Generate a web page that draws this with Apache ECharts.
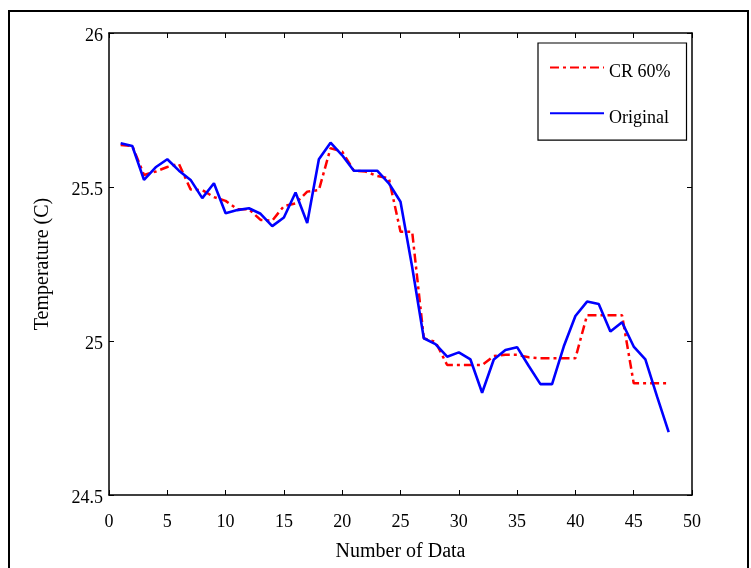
<!DOCTYPE html>
<html>
<head>
<meta charset="utf-8">
<script src="https://cdn.jsdelivr.net/npm/echarts@6/dist/echarts.min.js"></script>
<style>
  html, body { margin: 0; padding: 0; background: #fff; }
  #chart { width: 751px; height: 568px; }
</style>
</head>
<body>
<div id="chart"></div>
<script>
// Sample index along the horizontal axis
const sampleNo = [1,2,3,4,5,6,7,8,9,10,11,12,13,14,15,16,17,18,19,20,21,22,23,24,
                  25,26,27,28,29,30,31,32,33,34,35,36,37,38,39,40,41,42,43,44,45,46,47,48];

// Reconstructed signal at 60% compression ratio
const cr60 = [25.636, 25.633, 25.539, 25.55, 25.565, 25.575, 25.492, 25.49, 25.467, 25.455,
              25.428, 25.428, 25.393, 25.391, 25.438, 25.447, 25.485, 25.49, 25.626, 25.615,
              25.553, 25.55, 25.536, 25.528, 25.355, 25.355, 25.009, 24.997, 24.922, 24.922,
              24.922, 24.922, 24.951, 24.955, 24.955, 24.947, 24.944, 24.944, 24.944, 24.944,
              25.084, 25.084, 25.084, 25.084, 24.863, 24.863, 24.863, 24.863];

// Original temperature readings
const original = [25.642, 25.633, 25.523, 25.564, 25.59, 25.553, 25.523, 25.464, 25.512, 25.415,
                  25.425, 25.431, 25.413, 25.373, 25.401, 25.482, 25.383, 25.59, 25.644, 25.603,
                  25.553, 25.553, 25.553, 25.512, 25.452, 25.24, 25.009, 24.99, 24.949, 24.963,
                  24.94, 24.832, 24.94, 24.971, 24.98, 24.919, 24.86, 24.86, 24.982, 25.081,
                  25.128, 25.12, 25.031, 25.061, 24.982, 24.94, 24.82, 24.704];

const seriesNames = ['CR 60%', 'Original'];
const xTicks = { min: 0, max: 50, step: 5 };
const yTicks = { min: 24.5, max: 26, step: 0.5 };

const font = 'Liberation Serif, Times New Roman, serif';
const pair = (xs, ys) => xs.map((x, i) => [x, ys[i]]);

const chart = echarts.init(document.getElementById('chart'), null, { renderer: 'canvas' });

const axisLine = { show: true, onZero: false, lineStyle: { color: '#000', width: 1.5 } };
const tick = { show: true, inside: true, length: 5, lineStyle: { color: '#000', width: 1 } };

chart.setOption({
  animation: false,
  backgroundColor: '#fff',
  textStyle: { fontFamily: font },
  graphic: [{
    type: 'rect',
    shape: { x: 9, y: 11, width: 739, height: 600 },
    style: { fill: 'none', stroke: '#000', lineWidth: 2 },
    silent: true
  }],
  grid: { left: 109, right: 59, top: 33, bottom: 73, containLabel: false },
  legend: {
    orient: 'vertical',
    left: 538, top: 43,
    padding: [19, 16, 13, 11],
    itemWidth: 54, itemHeight: 14, itemGap: 26,
    backgroundColor: '#fff',
    borderColor: '#000', borderWidth: 1.2,
    // plain line samples, no point markers
    itemStyle: { opacity: 0 },
    // labels sit a little below their line sample
    formatter: '{t|{name}}',
    textStyle: {
      fontFamily: font, fontSize: 18, color: '#000',
      rich: { t: { fontFamily: font, fontSize: 18, color: '#000', padding: [10, 0, 0, 0] } }
    },
    data: seriesNames
  },
  xAxis: [{
    type: 'value', position: 'bottom',
    min: xTicks.min, max: xTicks.max, interval: xTicks.step,
    name: 'Number of Data', nameLocation: 'middle', nameGap: 47,
    nameTextStyle: { fontFamily: font, fontSize: 20, color: '#000' },
    axisLine, axisTick: tick,
    axisLabel: { fontFamily: font, fontSize: 18, color: '#000', margin: 18 },
    splitLine: { show: false }
  }, {
    type: 'value', position: 'top',
    min: xTicks.min, max: xTicks.max, interval: xTicks.step,
    axisLine, axisTick: tick, axisLabel: { show: false }, splitLine: { show: false }
  }],
  yAxis: [{
    type: 'value', position: 'left',
    min: yTicks.min, max: yTicks.max, interval: yTicks.step,
    name: 'Temperature (C)', nameLocation: 'middle', nameGap: 56,
    nameTextStyle: { fontFamily: font, fontSize: 20, color: '#000' },
    axisLine, axisTick: tick,
    axisLabel: { fontFamily: font, fontSize: 18, color: '#000', margin: 6,
                 verticalAlign: 'top', lineHeight: 6 },
    splitLine: { show: false }
  }, {
    type: 'value', position: 'right',
    min: yTicks.min, max: yTicks.max, interval: yTicks.step,
    axisLine, axisTick: tick, axisLabel: { show: false }, splitLine: { show: false }
  }],
  series: [{
    name: seriesNames[0], type: 'line',
    data: pair(sampleNo, cr60),
    symbol: 'none',
    lineStyle: { color: '#ff0000', width: 2.5, type: [9, 4, 3, 4] },
    itemStyle: { color: '#ff0000', opacity: 0 },
    z: 2
  }, {
    name: seriesNames[1], type: 'line',
    data: pair(sampleNo, original),
    symbol: 'none',
    lineStyle: { color: '#0000ff', width: 2.6 },
    itemStyle: { color: '#0000ff', opacity: 0 },
    z: 3
  }]
});
</script>
</body>
</html>
